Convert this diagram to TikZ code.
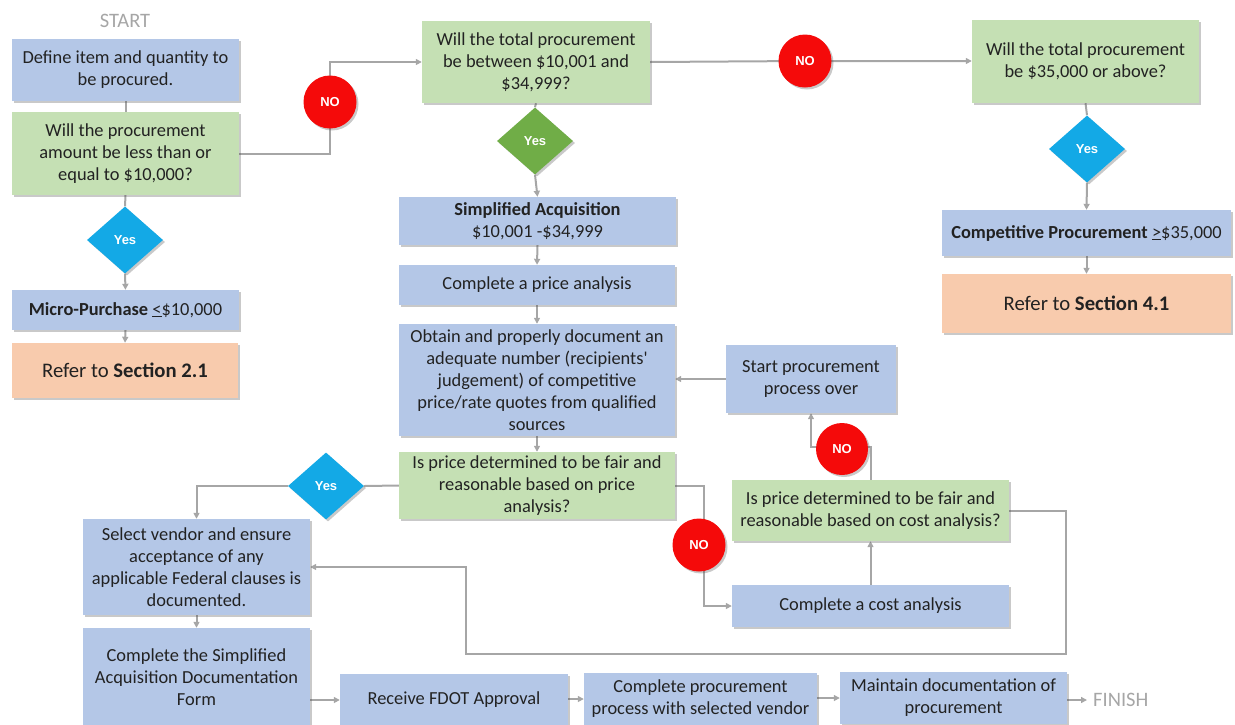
\documentclass[tikz,border=0pt]{standalone}
\usepackage{fontspec}
\setmainfont{Carlito}
\newfontfamily\arialf{Liberation Sans}
\usetikzlibrary{shapes.geometric,arrows.meta,shadows,calc}
\pgfdeclarelayer{bg}
\pgfsetlayers{bg,main}
\definecolor{boxblue}{HTML}{B4C7E7}
\definecolor{boxgreen}{HTML}{C5E0B4}
\definecolor{boxorange}{HTML}{F8CBAD}
\definecolor{dblue}{HTML}{13A9E6}
\definecolor{dgreen}{HTML}{70AD47}
\definecolor{nored}{HTML}{F50A0A}
\definecolor{linegray}{HTML}{A6A6A6}
\definecolor{txt}{HTML}{222222}
\tikzset{
  shd/.style={drop shadow={shadow xshift=2pt,shadow yshift=-2pt,opacity=0.3,fill=black!70}},
  base/.style={rectangle,inner sep=0pt,align=center,text=txt,font=\fontsize{18.4}{22}\selectfont,shd},
  bluebox/.style={base,fill=boxblue},
  greenbox/.style={base,fill=boxgreen},
  orangebox/.style={base,fill=boxorange,font=\fontsize{20.7}{24}\selectfont},
  yesd/.style={diamond,aspect=1.12,inner sep=0pt,minimum width=76pt,minimum height=67pt,fill=#1,text=white,font=\arialf\bfseries\fontsize{13}{15}\selectfont,shd},
  nocirc/.style={circle,inner sep=0pt,minimum size=53pt,fill=nored,text=white,font=\arialf\bfseries\fontsize{13}{15}\selectfont,shd},
  conn/.style={draw=linegray,line width=2pt},
  arr/.style={conn,-{Triangle[length=6pt,width=6pt]}},
  graytext/.style={text=linegray,font=\fontsize{20.5}{24}\selectfont,inner sep=0pt}
}
\begin{document}
\begin{tikzpicture}[x=1pt,y=-1pt]
\useasboundingbox (0,0) rectangle (1235,724);

% left column
\node[graytext] (start) at (125,21) {START};
\node[bluebox,minimum width=227pt,minimum height=62pt] (b1) at (125.5,70) {Define item and quantity to\\be procured.};
\node[greenbox,minimum width=227pt,minimum height=83pt] (b2) at (125.5,153.5) {Will the procurement\\amount be less than or\\equal to \$10,000?};
\node[yesd=dblue] (d1) at (125,240) {Yes};
\node[bluebox,minimum width=227pt,minimum height=40pt] (bmicro) at (125.5,310) {\textbf{Micro-Purchase} \underline{<}\$10,000};
\node[orangebox,minimum width=226pt,minimum height=55pt] (r1) at (125,370.5) {Refer to \textbf{Section 2.1}};

% middle column
\node[nocirc] (no1) at (330,102) {NO};
\node[greenbox,minimum width=228pt,minimum height=82pt] (b3) at (536,62) {Will the total procurement\\be between \$10,001 and\\\$34,999?};
\node[yesd=dgreen] (d2) at (535,141) {Yes};
\node[bluebox,minimum width=277pt,minimum height=48pt] (bsa) at (537.5,221) {\textbf{Simplified Acquisition}\\\$10,001 -\$34,999};
\node[bluebox,minimum width=276pt,minimum height=40pt] (bpa) at (537,285) {Complete a price analysis};
\node[bluebox,minimum width=276pt,minimum height=112pt] (bob) at (537,380) {Obtain and properly document an\\adequate number (recipients\textquotesingle\\judgement) of competitive\\price/rate quotes from qualified\\sources};
\node[greenbox,minimum width=276pt,minimum height=67pt] (bq) at (537,485.5) {Is price determined to be fair and\\reasonable based on price\\analysis?};

% right column
\node[nocirc] (no2) at (805,61) {NO};
\node[greenbox,minimum width=227pt,minimum height=83pt] (b4) at (1085.5,61.5) {Will the total procurement\\be \$35,000 or above?};
\node[yesd=dblue] (d3) at (1087,149) {Yes};
\node[bluebox,minimum width=289pt,minimum height=46pt] (bcomp) at (1086.5,233) {\textbf{Competitive Procurement} \underline{>}\$35,000};
\node[orangebox,minimum width=289pt,minimum height=59pt] (r2) at (1086.5,303.5) {Refer to \textbf{Section 4.1}};

% cost analysis loop
\node[bluebox,minimum width=170pt,minimum height=68pt] (bstart) at (811,379) {Start procurement\\process over};
\node[nocirc,minimum size=52pt] (no3) at (842,449) {NO};
\node[greenbox,minimum width=277pt,minimum height=61pt] (bcq) at (870.5,510.5) {Is price determined to be fair and\\reasonable based on cost analysis?};
\node[bluebox,minimum width=277pt,minimum height=42pt] (bca) at (870.5,606) {Complete a cost analysis};
\node[nocirc] (no4) at (699,545) {NO};

% lower left
\node[yesd=dblue] (d4) at (326,486) {Yes};
\node[bluebox,minimum width=227pt,minimum height=96pt] (bsel) at (196.5,567) {Select vendor and ensure\\acceptance of any\\applicable Federal clauses is\\documented.};
\node[bluebox,minimum width=227pt,minimum height=98pt] (bform) at (196.5,677) {Complete the Simplified\\Acquisition Documentation\\Form};
\node[bluebox,minimum width=228pt,minimum height=52pt] (bfdot) at (454,700) {Receive FDOT Approval};
\node[bluebox,minimum width=233pt,minimum height=52pt] (bcp) at (700.5,699) {Complete procurement\\process with selected vendor};
\node[bluebox,minimum width=227pt,minimum height=52pt] (bmd) at (953.5,698) {Maintain documentation of\\procurement};
\node[graytext,anchor=west] (finish) at (1093,700) {FINISH};

% helper coordinates
\coordinate (k3) at (871,447);
\coordinate (k4) at (704,485.5);
\coordinate (k5) at (1066,654);
\coordinate (k6) at (466,654);

\begin{pgfonlayer}{bg}
\draw[conn] (b1.south) -- (b2.north);
\draw[conn] (b2.south) -- (d1.north);
\draw[arr] (d1.south) -- (bmicro.north);
\draw[arr] (bmicro.south) -- (r1.north);
\draw[arr] (b2.east) -| (no1.center) |- (b3.west);
\draw[conn] (b3.south) -- (d2.north);
\draw[arr] (d2.south) -- (bsa.north);
\draw[arr] (bsa.south) -- (bpa.north);
\draw[arr] (bpa.south) -- (bob.north);
\draw[arr] (bob.south) -- (bq.north);
\draw[arr] (b3.east) -- (no2.center) -- (no2.center -| b4.west);
\draw[conn] (b4.south) -- (d3.north);
\draw[arr] (d3.south) -- (bcomp.north);
\draw[arr] (bcomp.south) -- (r2.north);
\draw[conn] (bq.west) -- (d4.east);
\draw[arr] (d4.west) -| (bsel.north);
\draw[arr] (bq.east) -- (k4) |- (bca.west);
\draw[arr] (bca.north) -- (bcq.south);
\draw[arr] (bcq.north -| k3) -- (k3) -| (bstart.south);
\draw[arr] (bstart.west) -- (bstart.west -| bob.east);
\draw[arr] (bcq.east) -| (k5) -- (k6) |- (bsel.east);
\draw[arr] (bsel.south) -- (bform.north);
\draw[arr] (bfdot.west -| bform.east) -- (bfdot.west);
\draw[arr] (bfdot.east |- bcp.west) -- (bcp.west);
\draw[arr] (bcp.east |- bmd.west) -- (bmd.west);
\draw[arr] (bmd.east |- finish.west) -- ($(finish.west)+(-6,0)$);
\end{pgfonlayer}
\end{tikzpicture}
\end{document}
